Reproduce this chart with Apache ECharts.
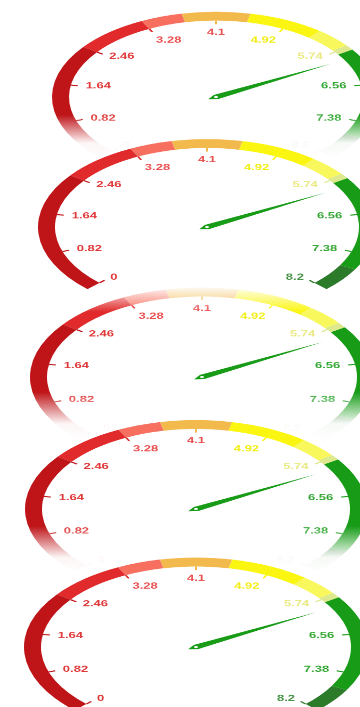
<!DOCTYPE html>
<html>
<head>
<meta charset="utf-8">
<title>Dials</title>
<script src="https://cdn.jsdelivr.net/npm/echarts@6/dist/echarts.min.js"></script>
<style>
  html, body { margin: 0; padding: 0; background: #fff; width: 360px; height: 707px; overflow: hidden; }
  #wrap { position: absolute; left: 0; top: 0; width: 360px; height: 707px; overflow: hidden; }
  /* the dials are drawn round and then flattened so they read as tilted */
  #chart { position: absolute; left: 0; top: 0; width: 360px; height: 1360px;
           transform: scaleY(0.52); transform-origin: 0 0; }
</style>
</head>
<body>
<div id="wrap"><div id="chart"></div></div>
<script>
// ---- dial scale ----
const scaleMin = 0;
const scaleMax = 8.2;
const scaleSplits = 10;
const tickLabels = ['0', '0.82', '1.64', '2.46', '3.28', '4.1', '4.92', '5.74', '6.56', '7.38', '8.2'];

// ---- colour bands: end of each band as a fraction of the dial ----
const bandStops = [0.3, 0.4, 0.455, 0.545, 0.645, 0.695, 0.708, 0.94, 1];

// ---- needle reading of each dial, top to bottom ----
const readings = [5.95, 5.95, 5.95, 5.95, 5.95];

// ---- styling ----
const bandColors = ['#bf1519', '#e02a2b', '#f7705f', '#f2b94c', '#fbf611', '#f8f85c', '#dde98c', '#189c18', '#2b7b2b'];
const labelColors = ['#e03a3a', '#e03a3a', '#e03a3a', '#e03a3a', '#ea5252', '#ea5252',
                     '#f2ee18', '#eaea84', '#35a835', '#35a835', '#469446'];

const SQ = 0.52;               // vertical flattening of the page
const LABEL_LIFT = 1.25;       // labels flatten less than the dial face
const W = 360;

// dial placement on the page (pixels after flattening); z sets stacking
const dials = [
  { cx: 216, cy: 97,  r: 164, z: 1 },
  { cx: 207, cy: 227, r: 169, z: 5 },
  { cx: 202, cy: 377, r: 172, z: 3 },
  { cx: 196, cy: 509, r: 171, z: 6 },
  { cx: 196, cy: 647, r: 172, z: 8 }
];

// white fades that dissolve the edges of some dials
const fades = [
  { y0: 115, y1: 160, z: 2, stops: [[0, 0], [0.62, 0.96], [1, 1]] },
  { y0: 268, y1: 312, z: 4, stops: [[0, 1], [0.42, 0.96], [1, 0]] },
  { y0: 392, y1: 440, z: 4, stops: [[0, 0], [0.66, 0.96], [1, 1]] },
  { y0: 526, y1: 575, z: 7, stops: [[0, 0], [0.64, 0.96], [1, 1]] }
];

const rich = {};
labelColors.forEach(function (c, i) { rich['t' + i] = { color: c }; });

function dialSeries(d, i) {
  return {
    type: 'gauge',
    z: d.z,
    center: [d.cx, d.cy / SQ],
    radius: d.r,
    startAngle: 225,
    endAngle: -45,
    min: scaleMin,
    max: scaleMax,
    splitNumber: scaleSplits,
    axisLine: {
      lineStyle: {
        width: 17,
        color: bandStops.map(function (s, k) { return [s, bandColors[k]]; })
      }
    },
    axisTick: { show: false },
    splitLine: { show: true, length: 7, distance: 0, lineStyle: { color: 'auto', width: 2 } },
    axisLabel: {
      show: true,
      distance: 25,
      fontFamily: 'Liberation Sans, Arial, sans-serif',
      fontWeight: 'bold',
      fontSize: 13,
      formatter: function (v) {
        const k = Math.round((v - scaleMin) / (scaleMax - scaleMin) * scaleSplits);
        return '{t' + k + '|' + tickLabels[k] + '}';
      },
      rich: rich
    },
    pointer: { show: true, length: '80%', width: 4.5, itemStyle: { color: 'auto' } },
    anchor: { show: true, showAbove: true, size: 4, itemStyle: { color: '#ffffff', borderWidth: 0 } },
    title: { show: false },
    detail: { show: false },
    data: [{ value: readings[i] }]
  };
}

function fadeRect(f) {
  return {
    type: 'rect',
    z: f.z,
    silent: true,
    shape: { x: 0, y: f.y0 / SQ, width: W, height: (f.y1 - f.y0) / SQ },
    style: {
      fill: {
        type: 'linear', x: 0, y: 0, x2: 0, y2: 1,
        colorStops: f.stops.map(function (s) { return { offset: s[0], color: 'rgba(255,255,255,' + s[1] + ')' }; })
      }
    }
  };
}

const chart = echarts.init(document.getElementById('chart'), null, { renderer: 'canvas' });
chart.setOption({
  backgroundColor: '#ffffff',
  animation: false,
  series: dials.map(dialSeries),
  graphic: { elements: fades.map(fadeRect) }
});

// give the scale labels back some height, each about its own anchor
(function liftLabels() {
  const zr = chart.getZr();
  function walk(el) {
    if (el.type === 'text') {
      const byPos = el.x || el.y;
      el.originX = byPos ? 0 : (el.style && el.style.x) || 0;
      el.originY = byPos ? 0 : (el.style && el.style.y) || 0;
      el.scaleY = LABEL_LIFT;
      el.markRedraw();
    }
    if (el.isGroup && el.eachChild) el.eachChild(walk);
  }
  zr.storage.getRoots().forEach(function (root) { walk(root); });
  zr.refreshImmediately();
})();
</script>
</body>
</html>
